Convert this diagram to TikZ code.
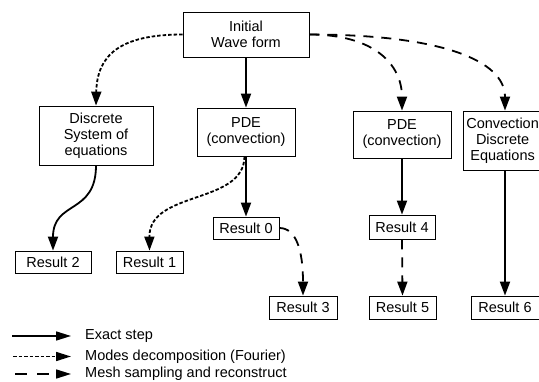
\documentclass[tikz,border=0pt]{standalone}
\usepackage{fontspec}
\setmainfont{Liberation Sans}
\usetikzlibrary{arrows.meta}
\begin{document}
\begin{tikzpicture}[x=1pt,y=-1pt,
  box/.style={draw=black,line width=0.8pt,rectangle,inner sep=0pt,align=center,
    font=\fontsize{14.5}{16}\selectfont},
  txt/.style={inner sep=0pt,align=center,font=\fontsize{14.5}{16}\selectfont},
  arr/.style={line width=1.8pt,-{Triangle[length=14pt,width=10pt]}},
  exact/.style={arr},
  modes/.style={arr,dash pattern=on 3.5pt off 2pt},
  mesh/.style={arr,dash pattern=on 10pt off 8pt},
  lsolid/.style={line width=1.6pt,-{Triangle[length=15pt,width=9pt]}},
  lmodes/.style={lsolid,dash pattern=on 3.5pt off 2pt},
  lmesh/.style={lsolid,dash pattern=on 12pt off 10pt}]
\useasboundingbox (0,0) rectangle (539,382);
\fill[white] (0,0) rectangle (539,382);
% boxes
\node[box,minimum width=126pt,minimum height=45pt] (init) at (246,34.5) {Initial\\Wave form};
\node[box,minimum width=114pt,minimum height=59pt] (disc) at (96,135.5) {Discrete\\System of\\equations};
\node[box,minimum width=98pt,minimum height=48pt] (pde1) at (246,132) {PDE\\(convection)};
\node[box,minimum width=98pt,minimum height=47pt] (pde2) at (402,134.5) {PDE\\(convection)};
\node[box,minimum width=76pt,minimum height=59pt] (conv) at (501,140.5) {};
\node[txt] (convtext) at (502.6,140.5) {Convection\\Discrete\\Equations};
\node[box,minimum width=66pt,minimum height=22pt] (r0) at (246,228) {Result 0};
\node[box,minimum width=76pt,minimum height=22pt] (r2) at (53,262) {Result 2};
\node[box,minimum width=67pt,minimum height=22pt] (r1) at (149.5,262) {Result 1};
\node[box,minimum width=66pt,minimum height=24pt] (r4) at (402,227) {Result 4};
\node[box,minimum width=68pt,minimum height=23pt] (r3) at (303,307.5) {Result 3};
\node[box,minimum width=67pt,minimum height=23pt] (r5) at (402.5,307.5) {Result 5};
\node[box,minimum width=68pt,minimum height=23pt] (r6) at (505,307.5) {Result 6};
% connectors
\draw[exact] (init.south) -- (pde1.north);
\draw[modes] (init.west) .. controls (120,34.5) and (97,55) .. (disc.north);
\draw[mesh] (init.east) .. controls (375,34.5) and (402,65) .. (pde2.north);
\draw[mesh] (init.east) .. controls (440,34.5) and (505,60) .. ([xshift=4pt]conv.north);
\draw[exact] (disc.south) .. controls (96,215) and (53,200) .. (r2.north);
\draw[modes] ([xshift=-1.5pt]pde1.south) .. controls (244,205) and (149,190) .. (r1.north);
\draw[exact] (pde1.south) -- (r0.north);
\draw[mesh] (r0.east) .. controls (296,228) and (303,250) .. (r3.north);
\draw[exact] (pde2.south) -- (r4.north);
\draw[mesh] (r4.south) -- (r5.north);
\draw[exact] ([xshift=4pt]conv.south) -- (r6.north);
% legend
\coordinate (l1a) at (12,336);
\coordinate (l1b) at (71,336);
\coordinate (l2a) at (13,356.5);
\coordinate (l2b) at (71,356.5);
\coordinate (l3a) at (15,374);
\coordinate (l3b) at (71,374);
\draw[lsolid] (l1a) -- (l1b);
\draw[lmodes] (l2a) -- (l2b);
\draw[lmesh] (l3a) -- (l3b);
\node[txt,anchor=west] (t1) at (85,336) {Exact step};
\node[txt,anchor=west] (t2) at (85,356.5) {Modes decomposition (Fourier)};
\node[txt,anchor=west] (t3) at (85,374) {Mesh sampling and reconstruct};
\end{tikzpicture}
\end{document}
